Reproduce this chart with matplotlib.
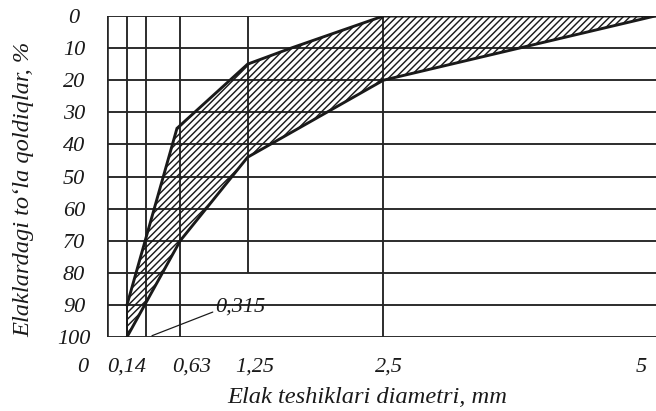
import matplotlib
matplotlib.use('Agg')
import matplotlib.pyplot as plt
import matplotlib.transforms as mtransforms

# ---- data ----
sieve_sizes = [0.14, 0.315, 0.63, 1.25, 2.5, 5.0]
x_tick_values = [0, 0.14, 0.63, 1.25, 2.5, 5.0]
x_tick_labels = ['0', '0,14', '0,63', '1,25', '2,5', '5']
y_ticks = [0, 10, 20, 30, 40, 50, 60, 70, 80, 90, 100]
y_tick_labels = [str(v) for v in y_ticks]

upper_x = [0.14, 0.60, 1.25, 1.65, 2.5, 5.0]
upper_y = [90, 35, 15, 10, 0, 0]
lower_x = [0.14, 0.63, 1.25, 2.5, 5.0]
lower_y = [100, 70, 44, 20, 0]

annot_label = '0,315'
x_label = 'Elak teshiklari diametri, mm'
y_label = 'Elaklardagi to\u2018la qoldiqlar, %'

# ---- style ----
DPI = 80
W, H = 656, 411
ink = '#1a1a1a'
grid_c = '#262626'
font = dict(family='Liberation Serif', style='italic', color=ink)
plt.rcParams['hatch.linewidth'] = 1.3

fig = plt.figure(figsize=(W / DPI, H / DPI), dpi=DPI)
ax_left, ax_right, ax_top, ax_bot = 107, 656, 16, 337
ax = fig.add_axes([ax_left / W, 1 - ax_bot / H, (ax_right - ax_left) / W, (ax_bot - ax_top) / H])
ax.set_xlim(-0.044, 5.009)
ax.set_ylim(100, 0)
ax.set_xticks([])
ax.set_yticks([])
for s in ax.spines.values():
    s.set_visible(False)

gw = 1.7
# horizontal grid lines
for v in y_ticks:
    ax.axhline(v, color=grid_c, lw=gw, zorder=1)
# left border
ax.axvline(-0.044, color=grid_c, lw=gw * 1.4, zorder=1)
# vertical sieve lines
for s in sieve_sizes:
    if s == 1.25:
        ax.vlines(s, 0, 80, color=grid_c, lw=gw, zorder=1)
    elif s < 5:
        ax.axvline(s, color=grid_c, lw=gw, zorder=1)

# hatched zone
poly_x = upper_x + lower_x[::-1]
poly_y = upper_y + lower_y[::-1]
ax.fill(poly_x, poly_y, facecolor='none', edgecolor=ink, hatch='////', lw=0, zorder=2)

# boundary curves
ax.plot(upper_x, upper_y, color=ink, lw=2.6, zorder=3, solid_joinstyle='miter')
ax.plot(lower_x, lower_y, color=ink, lw=2.6, zorder=3, solid_joinstyle='miter')
ax.plot([upper_x[0], lower_x[0]], [upper_y[0], lower_y[0]], color=ink, lw=1.8, zorder=3)

fs = 20
# y tick labels
ytr = ax.get_yaxis_transform()
for v, lab in zip(y_ticks, y_tick_labels):
    ax.text(-0.06, v, lab, transform=ytr, ha='center', va='center_baseline',
            fontsize=fs, clip_on=False, **font)

# x tick labels (pixel offsets relative to tick value)
x_offsets_px = [-29, 0, 11, 7, 6, -14]
xtr = ax.get_xaxis_transform()
for v, lab, dx in zip(x_tick_values, x_tick_labels, x_offsets_px):
    t = mtransforms.offset_copy(xtr, fig=fig, x=dx, y=0, units='dots')
    ax.text(v, -0.109, lab, transform=t, ha='center', va='baseline',
            fontsize=fs, clip_on=False, **font)

# 0,315 annotation with leader line
ax.annotate(annot_label, xy=(0.37, 99.6), xytext=(0.95, 90),
            ha='left', va='center_baseline', fontsize=fs,
            arrowprops=dict(arrowstyle='-', color=ink, lw=1.1, shrinkA=0, shrinkB=0,
                            relpos=(0, 0.3)),
            zorder=4, **font)

# axis labels
fs_lab = 22
fig.text(367 / W, 1 - 403 / H, x_label, ha='center', va='baseline', fontsize=fs_lab, **font)
fig.text(24 / W, 1 - 189 / H, y_label, ha='center', va='center', rotation=90,
         fontsize=fs_lab, **font)

fig.savefig('out.png', dpi=DPI, facecolor='white')
